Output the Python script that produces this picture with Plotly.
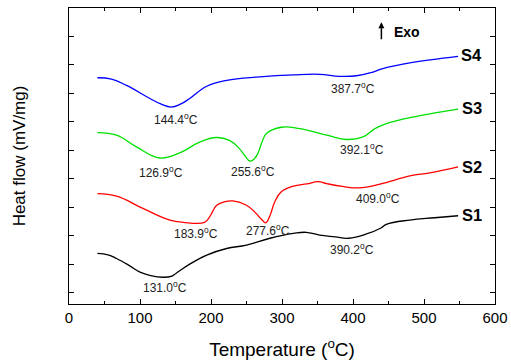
import plotly.graph_objects as go

# Temperature (°C) and heat flow (arbitrary offset units)
s1_t = [40, 55, 67, 85, 100, 115, 132, 145, 151, 170, 194, 222, 250, 283, 316, 334, 353, 375, 394, 419, 440, 447, 480, 515, 548]
s1_h = [1.38, 1.33, 1.20, 0.95, 0.72, 0.60, 0.54, 0.58, 0.68, 1.00, 1.32, 1.55, 1.67, 1.91, 2.08, 2.12, 2.02, 1.96, 1.91, 2.06, 2.28, 2.40, 2.55, 2.63, 2.70]

s2_t = [40, 67, 104, 142, 161, 191, 198, 208, 220, 231, 250, 262, 272, 277, 283, 290, 299, 316, 335, 351, 363, 385, 409, 438, 480, 508, 548]
s2_h = [3.48, 3.39, 2.96, 2.55, 2.47, 2.47, 2.66, 3.07, 3.20, 3.22, 3.07, 2.82, 2.55, 2.45, 2.70, 3.20, 3.54, 3.74, 3.82, 3.90, 3.83, 3.73, 3.68, 3.81, 4.10, 4.21, 4.42]

s3_t = [40, 67, 95, 128, 156, 184, 208, 226, 240, 248, 255, 261, 266, 272, 278, 299, 325, 363, 391, 414, 431, 445, 480, 548]
s3_h = [5.62, 5.53, 5.12, 4.73, 4.91, 5.29, 5.45, 5.35, 5.06, 4.80, 4.62, 4.70, 4.89, 5.30, 5.59, 5.81, 5.76, 5.53, 5.38, 5.47, 5.76, 5.92, 6.15, 6.45]

s4_t = [40, 60, 81, 114, 130, 144, 157, 170, 194, 222, 269, 316, 353, 381, 405, 428, 442, 480, 548]
s4_h = [7.55, 7.50, 7.28, 6.82, 6.62, 6.52, 6.62, 6.82, 7.25, 7.46, 7.58, 7.65, 7.67, 7.60, 7.62, 7.75, 7.87, 8.07, 8.30]

series_names = ["S1", "S2", "S3", "S4"]
series_colors = ["black", "red", "#00e000", "blue"]

peak_labels = ["144.4", "387.7", "126.9", "255.6", "392.1", "183.9", "277.6", "409.0", "131.0", "390.2"]
peak_x = [151, 400, 130, 259, 412, 179, 280, 435, 135, 399]
peak_y = [6.11, 7.20, 4.24, 4.27, 5.05, 2.10, 2.20, 3.33, 0.21, 1.55]

name_x = [567, 567, 567, 567]
name_y = [2.72, 4.42, 6.49, 8.34]

x_ticks = [0, 100, 200, 300, 400, 500, 600]

fig = go.Figure()
data = [(s1_t, s1_h), (s2_t, s2_h), (s3_t, s3_h), (s4_t, s4_h)]
for (t, h), name, col in zip(data, series_names, series_colors):
    fig.add_trace(go.Scatter(x=t, y=h, mode="lines", name=name,
                             line=dict(color=col, width=1.3, shape="spline", smoothing=1.2)))

font_family = "Liberation Sans, Arial, sans-serif"
for lab, x, y in zip(peak_labels, peak_x, peak_y):
    fig.add_annotation(x=x, y=y, text=lab + "<sup>o</sup>C", showarrow=False,
                       font=dict(family=font_family, size=12, color="#222"))

for n, x, y in zip(series_names, name_x, name_y):
    fig.add_annotation(x=x, y=y, text="<b>" + n + "</b>", showarrow=False,
                       font=dict(family=font_family, size=16.5, color="black"))

# Exo arrow
fig.add_annotation(x=440, y=9.5, ax=440, ay=8.85, xref="x", yref="y", axref="x", ayref="y",
                   text="", showarrow=True, arrowhead=2, arrowsize=0.8, arrowwidth=1.5,
                   arrowcolor="black")
fig.add_annotation(x=455, y=9.15, text="<b>Exo</b>", showarrow=False, xanchor="left",
                   font=dict(family=font_family, size=14, color="black"))

fig.update_layout(
    width=511, height=364,
    margin=dict(l=69, r=16, t=8, b=60),
    paper_bgcolor="white", plot_bgcolor="white",
    showlegend=False,
    font=dict(family=font_family, color="black"),
)
fig.update_xaxes(
    range=[0, 600], tickvals=x_ticks, ticks="inside", ticklen=5, tickcolor="black",
    minor=dict(ticks="inside", dtick=50, ticklen=3, tickcolor="black"),
    showline=True, linecolor="black", linewidth=1, mirror="ticks", showgrid=False, zeroline=False,
    tickfont=dict(size=15), automargin=False,
    title=dict(text="Temperature (<sup>o</sup>C)", font=dict(size=19), standoff=17),
)
fig.update_yaxes(
    range=[-0.4, 10], dtick=1, tick0=0, ticks="inside", ticklen=5, tickcolor="black",
    showticklabels=False, automargin=False,
    showline=True, linecolor="black", linewidth=1, mirror="ticks", showgrid=False, zeroline=False,
    title=dict(text="Heat flow (mV/mg)", font=dict(size=17), standoff=38),
)

fig.write_html("out.html", config={"displayModeBar": False},
               post_script="document.body.style.margin='0';document.body.style.overflow='hidden';")
